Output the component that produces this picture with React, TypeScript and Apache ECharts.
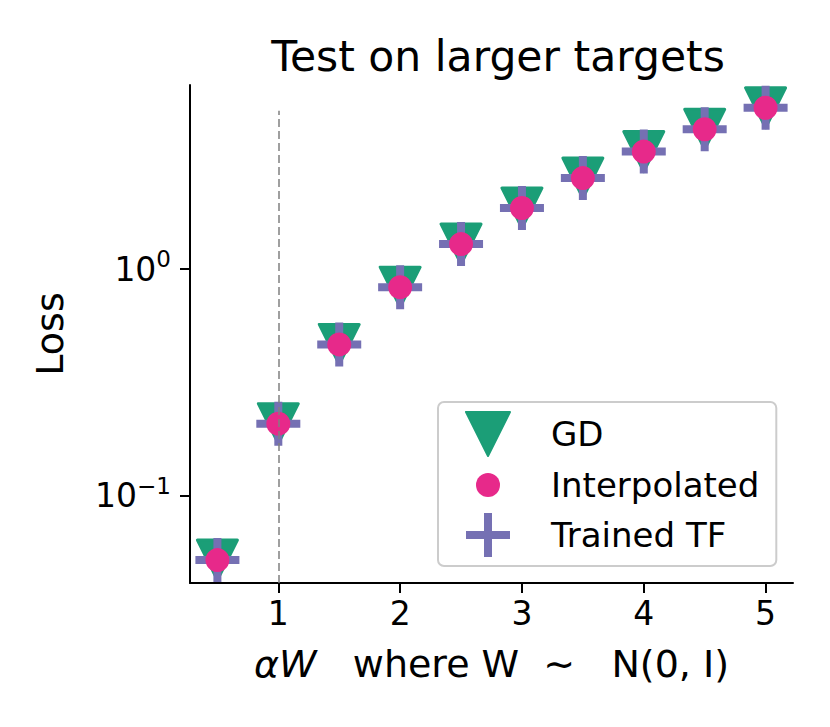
import React, { useEffect, useRef } from 'react';
import * as echarts from 'echarts';

// ---- data ----
const alphaValues = [0.5, 1, 1.5, 2, 2.5, 3, 3.5, 4, 4.5, 5];
const gdLoss = [0.052, 0.208, 0.465, 0.832, 1.29, 1.86, 2.52, 3.3, 4.14, 5.15];
const interpolatedLoss = [0.052, 0.208, 0.465, 0.832, 1.29, 1.86, 2.52, 3.3, 4.14, 5.15];
const trainedTfLoss = [0.052, 0.208, 0.465, 0.832, 1.29, 1.86, 2.52, 3.3, 4.14, 5.15];
const xTicks = [1, 2, 3, 4, 5];
const yTicks = [0.1, 1];
const yTickExponents = ['−1', '0'];
const refLineX = 1;
const refLineTop = 5;
const seriesNames = ['GD', 'Interpolated', 'Trained TF'];

const X_MIN = 0.275;
const X_MAX = 5.225;
const Y_MIN = 0.0412;
const Y_MAX = 6.49;

const FONT = 'DejaVu Sans';
const GREEN = '#1b9e77';
const PINK = '#e7298a';
const PURPLE = '#7570b3';

const TRI = 'path://M0,0 L40,0 L20,40 Z';
const PLUS = 'path://M0,18 H18 V0 H26 V18 H44 V26 H26 V44 H18 V26 H0 Z';
const DOT_ICON = 'path://M0,0 M44,44 M10,22 A12,12 0 1 0 34,22 A12,12 0 1 0 10,22 Z';

const pairs = (ys: number[]) => alphaValues.map((x, i) => [x, ys[i]]);

export default function App() {
  const ref = useRef<HTMLDivElement>(null);
  useEffect(() => {
    if (!ref.current) return;
    const chart = echarts.init(ref.current, null, { renderer: 'svg' });
    chart.setOption({
      animation: false,
      backgroundColor: '#ffffff',
      textStyle: { fontFamily: FONT },
      title: {
        text: 'Test on larger targets',
        left: 493,
        textAlign: 'center',
        top: 30,
        textStyle: { fontFamily: FONT, fontSize: 42.5, fontWeight: 'normal', color: '#000' },
      },
      grid: { left: 190, right: 37, top: 85, bottom: 144, containLabel: false, outerBoundsMode: 'none' },
      legend: {
        orient: 'vertical',
        left: 438,
        top: 402,
        data: [
          { name: seriesNames[0], icon: TRI },
          { name: seriesNames[1], icon: DOT_ICON },
          { name: seriesNames[2], icon: PLUS },
        ],
        itemWidth: 44,
        itemHeight: 44,
        itemGap: 6,
        padding: [9, 17, 9, 27],
        borderColor: '#cccccc',
        borderWidth: 2,
        borderRadius: 6,
        backgroundColor: 'rgba(255,255,255,0.8)',
        textStyle: { fontFamily: FONT, fontSize: 34, color: '#000', padding: [0, 0, 0, 36] },
      },
      xAxis: {
        type: 'value',
        min: X_MIN,
        max: X_MAX,
        splitLine: { show: false },
        axisLine: { show: true, onZero: false, lineStyle: { color: '#000', width: 2 } },
        axisTick: { show: true, customValues: xTicks, length: 10, lineStyle: { color: '#000', width: 2 } },
        axisLabel: { customValues: xTicks, fontFamily: FONT, fontSize: 33, color: '#000', margin: 14 },
        name: '{i|αW}   where W  ∼   N(0, I)',
        nameLocation: 'middle',
        nameGap: 62,
        nameTextStyle: {
          fontFamily: FONT,
          fontSize: 38,
          color: '#000',
          rich: { i: { fontFamily: FONT, fontStyle: 'italic', fontSize: 38, color: '#000' } },
        },
      },
      yAxis: {
        type: 'log',
        logBase: 10,
        min: Y_MIN,
        max: Y_MAX,
        splitLine: { show: false },
        minorTick: { show: false },
        axisLine: { show: true, onZero: false, lineStyle: { color: '#000', width: 2 } },
        axisTick: { show: true, customValues: yTicks, length: 10, lineStyle: { color: '#000', width: 2 } },
        axisLabel: {
          customValues: yTicks,
          margin: 19,
          formatter: (v: number) => {
            const idx = yTicks.findIndex((t) => Math.abs(Math.log10(t) - Math.log10(v)) < 1e-6);
            return '{b|10}{s|' + (idx >= 0 ? yTickExponents[idx] : '') + '}';
          },
          rich: {
            b: { fontFamily: FONT, fontSize: 33, color: '#000' },
            s: { fontFamily: FONT, fontSize: 23, color: '#000', padding: [0, 0, 20, 0] },
          },
        },
        name: 'Loss',
        nameLocation: 'middle',
        nameGap: 121,
        nameTextStyle: { fontFamily: FONT, fontSize: 38, color: '#000' },
      },
      series: [
        {
          type: 'scatter',
          name: 'ref',
          data: [],
          z: 1,
          markLine: {
            silent: true,
            symbol: ['none', 'none'],
            label: { show: false },
            lineStyle: { type: [8, 4], color: '#808080', width: 1.5 },
            data: [[{ coord: [refLineX, Y_MIN] }, { coord: [refLineX, refLineTop] }]],
          },
        },
        {
          type: 'scatter',
          name: seriesNames[0],
          data: pairs(gdLoss),
          symbol: TRI,
          symbolSize: [40, 40],
          z: 2,
          itemStyle: { color: GREEN, borderColor: GREEN, borderWidth: 3, borderJoin: 'round', opacity: 1 },
        },
        {
          type: 'scatter',
          name: seriesNames[2],
          data: pairs(trainedTfLoss),
          symbol: PLUS,
          symbolSize: [44, 44],
          z: 3,
          itemStyle: { color: PURPLE, opacity: 1 },
        },
        {
          type: 'scatter',
          name: seriesNames[1],
          data: pairs(interpolatedLoss),
          symbol: 'circle',
          symbolSize: 24,
          z: 4,
          itemStyle: { color: PINK, opacity: 1 },
        },
      ],
    });
    return () => chart.dispose();
  }, []);
  return (
    <div
      ref={ref}
      style={{ position: 'absolute', left: 0, top: 0, width: 830, height: 727, background: '#fff' }}
    />
  );
}
